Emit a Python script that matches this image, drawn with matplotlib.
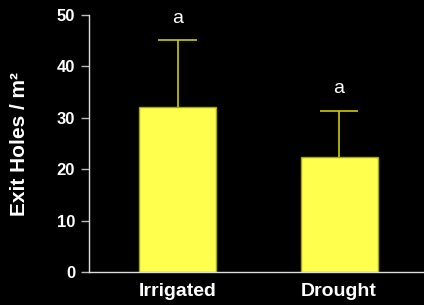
import matplotlib
matplotlib.use("Agg")
import matplotlib.pyplot as plt

categories = ["Irrigated", "Drought"]
means = [32.1, 22.4]
errors_upper = [13.0, 9.0]
letters = ["a", "a"]
yticks = [0, 10, 20, 30, 40, 50]

plt.rcParams['font.family'] = ['Liberation Sans', 'DejaVu Sans']

fig = plt.figure(figsize=(4.24, 3.05), dpi=100, facecolor='black')
ax = fig.add_axes([0.21, 0.108, 0.79, 0.843])
ax.set_facecolor('black')

x = list(range(len(categories)))
ax.bar(x, means, width=0.477, color='#FFFF4D', edgecolor='#A8A800', linewidth=1.0, zorder=2)
tops = [m + e for m, e in zip(means, errors_upper)]
cap_half = 0.118
ax.vlines(x, means, tops, colors='#CCCC00', linewidth=1.2, zorder=3)
ax.hlines(tops, [xi - cap_half for xi in x], [xi + cap_half for xi in x],
          colors='#CCCC00', linewidth=1.2, zorder=3)
for xi, t, l in zip(x, tops, letters):
    ax.text(xi, t + 2.6, l, ha='center', va='bottom', color='white', fontsize=14)

ax.set_xlim(-0.548, 1.526)
ax.set_ylim(0, 50)
ax.set_yticks(yticks)
ax.set_xticks(x)
ax.set_xticklabels(categories, fontsize=14, fontweight='bold', color='white')
ax.tick_params(axis='y', colors='#BBBBBB', length=6, width=1, labelsize=12, direction='out', pad=4)
ax.tick_params(axis='x', length=0, pad=8)
for lbl in ax.get_yticklabels():
    lbl.set_fontweight('bold')
    lbl.set_color('white')
ax.set_ylabel("Exit Holes / m²", fontsize=15, fontweight='bold', color='white', labelpad=20)

for s in ['top', 'right']:
    ax.spines[s].set_visible(False)
for s in ['left', 'bottom']:
    ax.spines[s].set_color('#DDDDDD')
    ax.spines[s].set_linewidth(1)

fig.savefig('out.png', dpi=100, facecolor='black')
